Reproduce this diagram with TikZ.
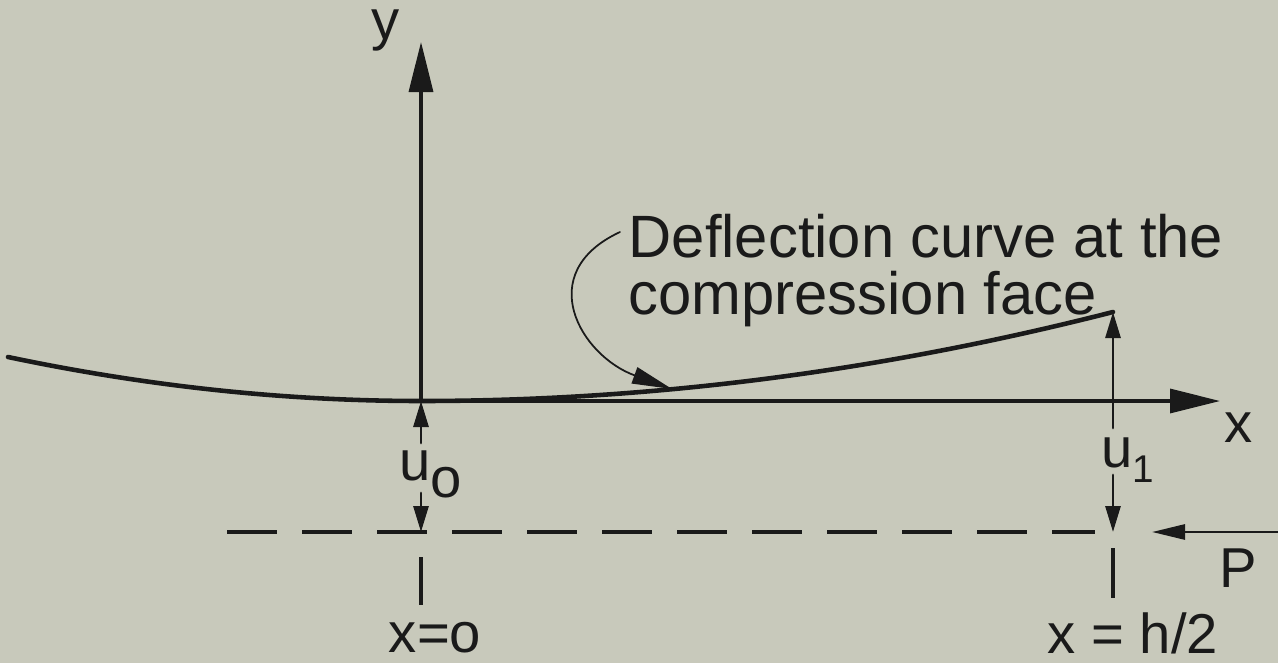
\documentclass[tikz,border=0pt]{standalone}
\usepackage{fontspec}
\setmainfont{Liberation Sans}
\usetikzlibrary{arrows.meta,positioning}
\definecolor{paper}{RGB}{200,201,187}
\definecolor{ink}{RGB}{26,26,26}

\begin{document}
\begin{tikzpicture}[color=ink,line cap=round,
	every node/.style={inner sep=0pt,text=ink,font=\fontsize{16}{16}\selectfont},
	axis/.style={line width=0.9pt,-{Triangle[length=5mm,width=2.4mm]}},
	dimarrow/.style={line width=0.8pt,-{Triangle[length=2.6mm,width=1.5mm]}},
	guide/.style={line width=1pt,line cap=butt,dash pattern=on 5mm off 2.5mm},
	defl/.style={line width=1.3pt},
	callout/.style={line width=0.5pt,-{Triangle[length=4mm,width=1.7mm]}}]
	\fill[paper] (0,0) rectangle (12.78,6.63);
	\useasboundingbox (0,0) rectangle (12.78,6.63);
	% axes
	\coordinate (O) at (4.21,2.62);
	\coordinate (ytip) at (4.21,6.21);
	\coordinate (xtip) at (12.20,2.62);
	\coordinate (A1) at (11.13,2.62);
	\draw[axis] (O)--(ytip);
	\draw[axis] (O)--(xtip);
	\node (ylab) at (3.86,6.24)[anchor=base] {y};
	\node (xlab) at (12.39,2.21)[anchor=base] {x};
	% deflection curve
	\coordinate (L) at (0.08,3.06);
	\coordinate (E) at (11.13,3.51);
	\draw[defl] (L) .. controls (1.46,2.77) and (2.83,2.62) .. (O)
		.. controls (6.52,2.62) and (8.82,2.92) .. (E);
	% reference line
	\coordinate (B0) at (4.21,1.31);
	\coordinate (B1) at (11.13,1.31);
	\draw[guide] (2.27,1.31)--(10.95,1.31);
	\draw[guide] (4.21,1.06)--(4.21,0.58);
	\draw[guide] (11.13,1.15)--(11.13,0.58);
	% u0 and u1
	\draw[dimarrow] (4.21,2.20)--(O);
	\draw[dimarrow] (4.21,1.70)--(B0);
	\node (u0) at (3.99,1.83)[anchor=base west] {u\raisebox{-5pt}{o}};
	\draw[dimarrow] (A1)--(E);
	\draw[line width=0.8pt] (A1)--(11.13,2.35);
	\draw[dimarrow] (11.13,1.88)--(B1);
	\node (u1) at (11.01,1.96)[anchor=base west] {u\raisebox{-4.5pt}{\fontsize{11}{11}\selectfont 1}};
	% load
	\coordinate (Pin) at (12.78,1.31);
	\draw[line width=0.8pt,-{Triangle[length=3.3mm,width=1.5mm]}] (Pin)--(11.52,1.31);
	\node (plab) at (12.38,0.76)[anchor=base] {P};
	\node (xzero) at (4.35,0.11)[anchor=base] {x=o};
	\node (xhalf) at (11.33,0.10)[anchor=base] {x = h/2};
	% note
	\node (note) at (6.28,4.50)[anchor=north west,align=left,font=\fontsize{17}{16.5}\selectfont]
		{Deflection curve at the\\compression face};
	\coordinate (tail) at (6.20,4.31);
	\coordinate (hit) at (6.72,2.74);
	\draw[callout] (tail) to[out=205,in=160,looseness=1.5] (hit);
\end{tikzpicture}
\end{document}
